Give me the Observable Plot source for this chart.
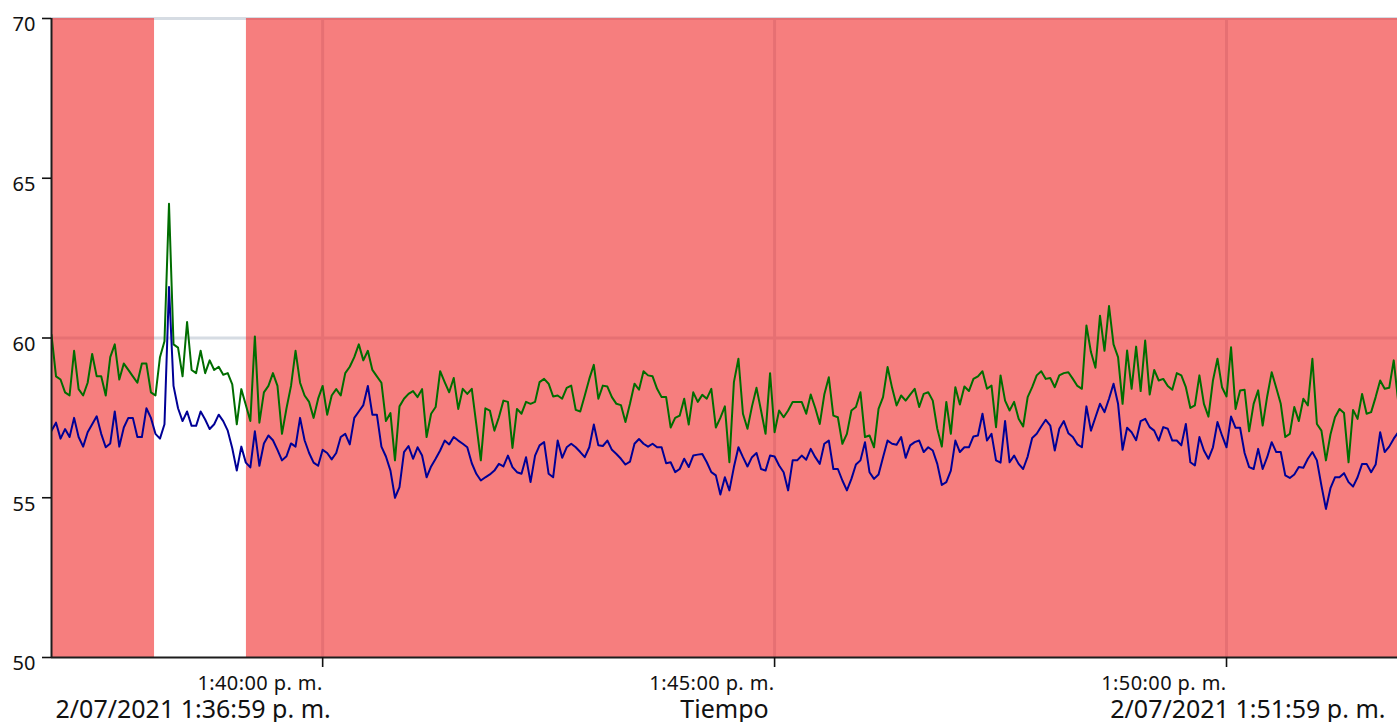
<!DOCTYPE html>
<html>
<head>
<meta charset="utf-8">
<script src="https://cdn.jsdelivr.net/npm/d3@7"></script>
<script src="https://cdn.jsdelivr.net/npm/@observablehq/plot@0.6"></script>
<style>
  html, body { margin: 0; padding: 0; background: #ffffff; overflow: hidden; }
  #chart svg { display: block; }
  #chart g[aria-label="x-axis tick label"] text { letter-spacing: 0.4px; }
</style>
</head>
<body>
<div id="chart"></div>
<script>
// ---- data ----
const chartDate = [2021, 6, 2];          // 2/07/2021
const xDomain = ["13:37:00", "13:51:53.5"];
const sampleStart = "13:37:00";
const sampleStepSec = 3;

const yTicks = [50, 55, 60, 65, 70];
const yGrid = [60, 70];
const xTicks = ["13:40:00", "13:45:00", "13:50:00"];

// red (out of range) bands
const bandStart = ["13:37:00", "13:39:09.4"];
const bandEnd   = ["13:38:08.4", "13:51:59"];

const bottomLabels = ["2/07/2021 1:36:59 p. m.", "Tiempo", "2/07/2021 1:51:59 p. m."];

const greenSeries = [
  60.1, 58.8, 58.7, 58.3, 58.2, 59.6, 58.4, 58.2, 58.6, 59.5,
  58.8, 58.8, 58.2, 59.4, 59.8, 58.7, 59.2, 59.0, 58.8, 58.6,
  59.2, 59.2, 58.3, 58.2, 59.4, 59.9, 64.2, 59.8, 59.7, 58.8,
  60.5, 59.0, 58.9, 59.6, 58.9, 59.3, 59.0, 59.1, 58.85, 58.9,
  58.55, 57.3, 58.4, 57.9, 57.4, 60.05, 57.35, 58.3, 58.5, 58.9,
  58.5, 57.0, 57.8, 58.5, 59.6, 58.6, 58.2, 58.0, 57.5, 58.1,
  58.5, 57.6, 58.2, 58.4, 58.2, 58.9, 59.1, 59.4, 59.8, 59.3,
  59.6, 59.0, 58.8, 58.6, 57.4, 57.65, 56.17, 57.86, 58.1, 58.25,
  58.34, 58.15, 58.4, 56.9, 57.63, 57.84, 58.96, 58.62, 58.3, 58.75,
  57.78, 58.41, 58.25, 58.41, 57.3, 56.17, 57.8, 57.73, 57.1, 57.52,
  58.04, 58.0, 56.56, 57.78, 57.63, 58.0, 57.94, 58.0, 58.62, 58.72,
  58.57, 58.17, 58.2, 58.1, 58.44, 58.51, 57.75, 57.7, 58.2, 58.72,
  59.16, 58.1, 58.51, 58.48, 58.15, 57.94, 57.9, 57.37, 57.94, 58.57,
  58.38, 58.96, 58.83, 58.8, 58.41, 58.15, 58.15, 57.2, 57.5, 57.57,
  58.1, 57.29, 58.3, 58.0, 58.22, 58.1, 58.41, 57.2, 57.5, 57.86,
  56.11, 58.62, 59.35, 57.63, 57.16, 57.86, 58.44, 57.73, 57.0, 58.9,
  57.05, 57.73, 57.52, 57.73, 58.0, 58.0, 58.0, 57.63, 58.23, 57.81,
  57.31, 58.23, 58.77, 57.57, 57.52, 56.69, 57.0, 57.73, 57.84, 58.3,
  56.9, 56.95, 56.58, 57.78, 58.15, 59.09, 58.44, 57.89, 58.2, 58.04,
  58.23, 58.41, 57.84, 58.25, 58.3, 58.04, 57.16, 56.6, 58.0, 57.0,
  58.46, 57.92, 58.48, 58.34, 58.72, 58.8, 58.96, 58.41, 58.51, 57.21,
  58.83, 58.04, 57.73, 58.0, 57.47, 57.23, 58.15, 58.46, 58.83, 58.96,
  58.72, 58.75, 58.46, 58.83, 58.9, 58.93, 58.72, 58.5, 58.41, 60.39,
  59.56, 59.07, 60.7, 59.6, 61.0, 59.8, 59.4, 57.94, 59.61, 58.41,
  59.73, 58.34, 59.92, 58.23, 59.0, 58.67, 58.72, 58.5, 58.38, 58.9,
  58.83, 58.46, 57.81, 57.89, 58.83, 57.94, 57.54, 58.67, 59.35, 58.46,
  58.17, 59.71, 57.78, 58.36, 58.38, 57.08, 57.94, 58.36, 57.26, 58.17,
  58.93, 58.44, 57.94, 56.9, 57.0, 57.84, 57.4, 58.1, 57.89, 59.35,
  57.31, 57.1, 56.17, 56.98, 57.52, 57.78, 57.65, 56.11, 57.75, 57.47,
  58.25, 57.63, 57.68, 58.15, 58.67, 58.41, 58.44, 59.3, 57.99
];

const blueSeries = [
  57.1, 57.35, 56.85, 57.15, 56.9, 57.5, 56.9, 56.6, 57.05, 57.3,
  57.55, 57.0, 56.58, 56.7, 57.7, 56.6, 57.2, 57.5, 57.5, 56.9,
  56.9, 57.8, 57.5, 57.0, 56.85, 57.3, 61.6, 58.5, 57.8, 57.4,
  57.7, 57.25, 57.25, 57.7, 57.45, 57.15, 57.3, 57.6, 57.4, 57.1,
  56.55, 55.85, 56.6, 56.1, 55.95, 57.08, 56.0, 56.7, 56.95, 56.8,
  56.5, 56.17, 56.3, 56.7, 56.6, 57.5, 56.8, 56.4, 56.1, 56.0,
  56.5, 56.4, 56.2, 56.4, 56.9, 57.0, 56.67, 57.5, 57.7, 57.9,
  58.5, 57.6, 57.6, 56.6, 56.29, 55.85, 55.0, 55.33, 56.43, 56.62,
  56.22, 56.58, 56.32, 55.64, 55.98, 56.22, 56.48, 56.79, 56.67, 56.9,
  56.79, 56.69, 56.58, 56.08, 55.75, 55.54, 55.64, 55.73, 55.85, 56.06,
  55.98, 56.32, 55.96, 55.8, 55.75, 56.27, 55.49, 56.32, 56.64, 56.74,
  55.75, 55.64, 56.79, 56.25, 56.58, 56.69, 56.58, 56.43, 56.27, 56.58,
  57.29, 56.64, 56.62, 56.79, 56.5, 56.37, 56.22, 56.04, 56.13, 56.69,
  56.84, 56.69, 56.6, 56.69, 56.58, 56.58, 56.08, 56.11, 55.8, 55.9,
  56.22, 55.96, 56.32, 56.35, 56.37, 56.11, 55.8, 55.7, 55.1, 55.64,
  55.23, 55.96, 56.58, 56.27, 55.98, 56.27, 56.4, 55.9, 55.85, 56.32,
  56.29, 56.01, 55.8, 55.23, 56.17, 56.17, 56.32, 56.19, 56.53, 56.27,
  56.06, 56.69, 56.79, 55.9, 55.9, 55.54, 55.23, 55.59, 56.04, 56.17,
  56.74, 55.8, 55.59, 55.73, 56.27, 56.79, 56.69, 56.66, 56.9, 56.25,
  56.64, 56.74, 56.79, 56.43, 56.58, 56.48, 56.06, 55.4, 55.49, 55.85,
  56.79, 56.43, 56.58, 56.58, 56.92, 56.95, 57.63, 56.79, 57.0, 56.17,
  56.1, 57.4, 56.11, 56.32, 56.06, 55.9, 56.29, 56.87, 57.0, 57.23,
  57.44, 57.26, 56.48, 57.16, 57.4, 57.02, 56.9, 56.67, 56.58, 57.86,
  57.1, 57.52, 57.94, 57.68, 58.1, 58.57, 57.94, 56.5, 57.19, 57.05,
  56.8, 57.4, 57.47, 57.21, 57.1, 56.79, 57.21, 57.16, 56.79, 56.79,
  56.64, 57.31, 56.11, 56.01, 56.9, 56.48, 56.22, 56.58, 57.37, 56.95,
  56.58, 57.54, 57.19, 57.19, 56.4, 55.96, 55.9, 56.53, 55.9, 56.27,
  56.74, 56.43, 56.43, 55.7, 55.62, 55.73, 55.96, 55.94, 56.22, 56.43,
  56.17, 55.38, 54.65, 55.3, 55.64, 55.64, 55.77, 55.49, 55.35, 55.64,
  56.06, 56.06, 55.8, 56.04, 57.05, 56.43, 56.6, 56.85, 57.05
];

// ---- helpers ----
function at(hms) {
  const [h, m, s] = hms.split(":").map(Number);
  const whole = Math.floor(s);
  return new Date(chartDate[0], chartDate[1], chartDate[2], h, m, whole, Math.round((s - whole) * 1000));
}
function fmtTime(d) {
  const h = d.getHours() % 12 || 12;
  const mm = String(d.getMinutes()).padStart(2, "0");
  const ss = String(d.getSeconds()).padStart(2, "0");
  return `${h}:${mm}:${ss} ${d.getHours() >= 12 ? "p. m." : "a. m."}`;
}

const t0 = at(sampleStart);
const rows = greenSeries.map((g, i) => ({
  t: new Date(+t0 + i * sampleStepSec * 1000),
  green: g,
  blue: blueSeries[i]
}));
const bands = bandStart.map((s, i) => ({start: at(s), end: at(bandEnd[i])}));
const xTickDates = xTicks.map(at);

const gridColor = "#d6dce3";
const ink = "#111111";

const chart = Plot.plot({
  width: 1397,
  height: 722,
  marginLeft: 51,
  marginRight: 0,
  marginTop: 18,
  marginBottom: 65,
  style: {fontFamily: "'Noto Sans', sans-serif", fontSize: "20px", color: ink, background: "#ffffff", overflow: "visible"},
  x: {type: "time", domain: xDomain.map(at), label: null},
  y: {domain: [50, 70], label: null},
  marks: [
    Plot.gridY(yGrid, {stroke: gridColor, strokeOpacity: 1, strokeWidth: 3}),
    Plot.gridX(xTickDates, {stroke: gridColor, strokeOpacity: 1, strokeWidth: 3}),
    Plot.rect(bands, {x1: "start", x2: "end", fill: "rgb(240,40,40)", fillOpacity: 0.6, clip: true}),
    Plot.line(rows, {x: "t", y: "green", stroke: "#006d00", strokeWidth: 2, clip: true}),
    Plot.line(rows, {x: "t", y: "blue", stroke: "#000096", strokeWidth: 2, clip: true}),
    Plot.ruleY([50], {stroke: "#1c1c1c", strokeWidth: 2}),
    Plot.ruleX([at(xDomain[0])], {stroke: "#1c1c1c", strokeWidth: 2}),
    // y axis: tick marks only, labels drawn as text below
    Plot.axisY(yTicks, {tickSize: 9, tickFormat: () => "", stroke: ink, strokeWidth: 1.6, label: null}),
    Plot.text(yTicks, {y: d => d, text: d => String(d), frameAnchor: "left", textAnchor: "end", dx: -16, dy: 6.5, fontSize: 20, fill: ink}),
    Plot.axisX(xTickDates, {tickSize: 10, tickPadding: 8, textAnchor: "end", tickFormat: fmtTime, stroke: ink, strokeWidth: 1.6, fill: ink, fontSize: 20, label: null}),
    Plot.text([bottomLabels[0]], {frameAnchor: "bottom-left", lineAnchor: "bottom", text: d => d, textAnchor: "start", dx: 4, dy: 60, fontSize: 25, fill: ink}),
    Plot.text([bottomLabels[1]], {frameAnchor: "bottom", lineAnchor: "bottom", text: d => d, textAnchor: "middle", dx: 0, dy: 60, fontSize: 25, fill: ink}),
    Plot.text([bottomLabels[2]], {frameAnchor: "bottom-right", lineAnchor: "bottom", text: d => d, textAnchor: "end", dx: -12, dy: 60, fontSize: 25, fill: ink})
  ]
});
document.getElementById("chart").appendChild(chart);
</script>
</body>
</html>
